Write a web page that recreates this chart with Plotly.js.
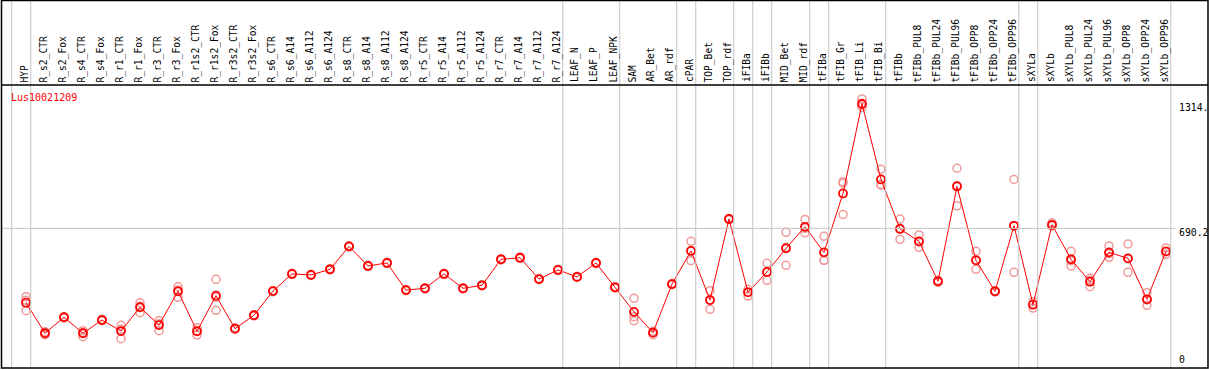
<!DOCTYPE html>
<html>
<head>
<meta charset="utf-8">
<script src="https://cdn.plot.ly/plotly-3.0.1.min.js"></script>
<style>html,body{margin:0;padding:0;background:#fff}#chart{width:1209px;height:370px}</style>
</head>
<body>
<div id="chart"></div>
<script>
var geneName = "Lus10021209";
var categories = ["HYP","R_s2_CTR","R_s2_Fox","R_s4_CTR","R_s4_Fox","R_r1_CTR","R_r1_Fox","R_r3_CTR","R_r3_Fox","R_r1s2_CTR","R_r1s2_Fox","R_r3s2_CTR","R_r3s2_Fox","R_s6_CTR","R_s6_A14","R_s6_A112","R_s6_A124","R_s8_CTR","R_s8_A14","R_s8_A112","R_s8_A124","R_r5_CTR","R_r5_A14","R_r5_A112","R_r5_A124","R_r7_CTR","R_r7_A14","R_r7_A112","R_r7_A124","LEAF_N","LEAF_P","LEAF_NPK","SAM","AR_Bet","AR_rdf","cPAR","TOP_Bet","TOP_rdf","iFIBa","iFIBb","MID_Bet","MID_rdf","tFIBa","tFIB_Gr","tFIB_Li","tFIB_Bi","tFIBb","tFIBb_PUL8","tFIBb_PUL24","tFIBb_PUL96","tFIBb_OPP8","tFIBb_OPP24","tFIBb_OPP96","sXYLa","sXYLb","sXYLb_PUL8","sXYLb_PUL24","sXYLb_PUL96","sXYLb_OPP8","sXYLb_OPP24","sXYLb_OPP96"];
var meanValues = [318,165,245,165,231,176,295,206,375,175,353,188,255,376,462,457,485,600,502,517,381,390,462,390,405,535,543,436,482,447,517,395,272,168,411,577,331,737,370,472,590,698,570,865,1314,935,687,625,425,900,530,375,703,308,708,535,423,570,540,335,575];
var rep1 = [348,173,248,178,235,205,318,228,398,193,435,192,258,379,465,460,488,603,505,520,384,393,465,393,408,538,546,439,485,450,520,398,340,175,414,625,378,740,385,515,670,735,650,924,1338,986,737,657,430,991,575,378,935,323,718,575,440,602,612,368,592];
var rep2 = [330,165,245,168,230,185,300,212,382,176,345,188,255,376,462,457,485,600,502,517,381,390,462,390,405,535,543,436,482,447,517,395,248,168,411,578,330,737,372,470,595,690,530,916,1308,910,690,622,425,905,530,375,705,310,703,528,430,563,538,332,573];
var rep3 = [278,158,242,148,228,138,268,178,345,156,280,184,252,373,459,454,482,597,499,514,378,387,459,387,402,532,540,433,479,444,514,392,228,158,408,528,285,734,351,430,505,668,530,760,1296,906,635,595,420,803,485,372,470,291,703,502,398,545,470,305,560];
var groupEnds = ["HYP","R_r7_A124","LEAF_NPK","AR_rdf","cPAR","TOP_rdf","iFIBa","iFIBb","MID_rdf","tFIBa","tFIB_Bi","tFIBb_OPP96","sXYLa","sXYLb_OPP96"];
var tickValues = [1314, 690.2, 0];
var tickLabels = ["1314.", "690.2", "0"];

var W = 1209, H = 370;
function px(x){ return x / W; }
function py(y){ return 1 - y / H; }
var mono = "DejaVu Sans Mono, monospace";

var repColor = "#f09a9a";
var traces = [];
[rep1, rep2, rep3].forEach(function(r){
  traces.push({
    x: categories, y: r, type: "scatter", mode: "markers",
    marker: {symbol: "circle-open", size: 8, color: repColor, line: {width: 1.5, color: repColor}},
    hoverinfo: "skip", showlegend: false
  });
});
traces.push({
  x: categories, y: meanValues, type: "scatter", mode: "lines+markers",
  line: {color: "#ff0000", width: 1},
  marker: {symbol: "circle-open", size: 8, color: "#ff0000", line: {width: 1.8, color: "#ff0000"}},
  showlegend: false
});

var shapes = [];
var sepIdx = [-1].concat(groupEnds.map(function(g){ return categories.indexOf(g); }));
sepIdx.forEach(function(i){
  shapes.push({type: "line", xref: "x", yref: "paper", x0: i + 0.25, x1: i + 0.25, y0: py(368), y1: py(0.5),
    line: {color: "#c4c4c4", width: 1}});
});
shapes.push({type: "line", xref: "paper", yref: "y", x0: px(1), x1: px(1176), y0: 690.2, y1: 690.2,
  line: {color: "#c4c4c4", width: 1}});
// frame
shapes.push({type: "rect", xref: "paper", yref: "paper", x0: px(1.5), x1: px(1208), y0: py(368), y1: py(0.5),
  line: {color: "#000", width: 1.5}});
shapes.push({type: "line", xref: "paper", yref: "paper", x0: px(1.5), x1: px(1208), y0: py(85), y1: py(85),
  line: {color: "#000", width: 1.5}});

var annotations = categories.map(function(c){
  return {x: c, xref: "x", y: py(83.5), yref: "paper", text: c, showarrow: false, textangle: -90,
    xanchor: "center", yanchor: "bottom", xshift: -2, font: {family: mono, size: 9.6, color: "#000"}, borderpad: 0};
});
annotations.push({x: px(10), xref: "paper", y: py(97.5), yref: "paper", text: geneName, showarrow: false,
  xanchor: "left", yanchor: "middle", font: {family: mono, size: 10, color: "#ff0000"}, borderpad: 0});
tickValues.forEach(function(v, k){
  annotations.push({x: px(1178), xref: "paper", y: v, yref: "y", text: tickLabels[k], showarrow: false,
    xanchor: "left", yanchor: v === 0 ? "bottom" : "middle", yshift: v === 0 ? 0 : -4,
    font: {family: mono, size: 9.8, color: "#000"}, borderpad: 0});
});

var layout = {
  width: W, height: H, margin: {l: 0, r: 0, t: 0, b: 0},
  paper_bgcolor: "#fff", plot_bgcolor: "#fff",
  xaxis: {type: "category", range: [-26/19, -26/19 + W/19], visible: false, fixedrange: true},
  yaxis: {range: [-19.02, -19.02 + H/0.19975], visible: false, fixedrange: true},
  shapes: shapes, annotations: annotations, showlegend: false
};
Plotly.newPlot("chart", traces, layout, {staticPlot: true, displayModeBar: false});
</script>
</body>
</html>
